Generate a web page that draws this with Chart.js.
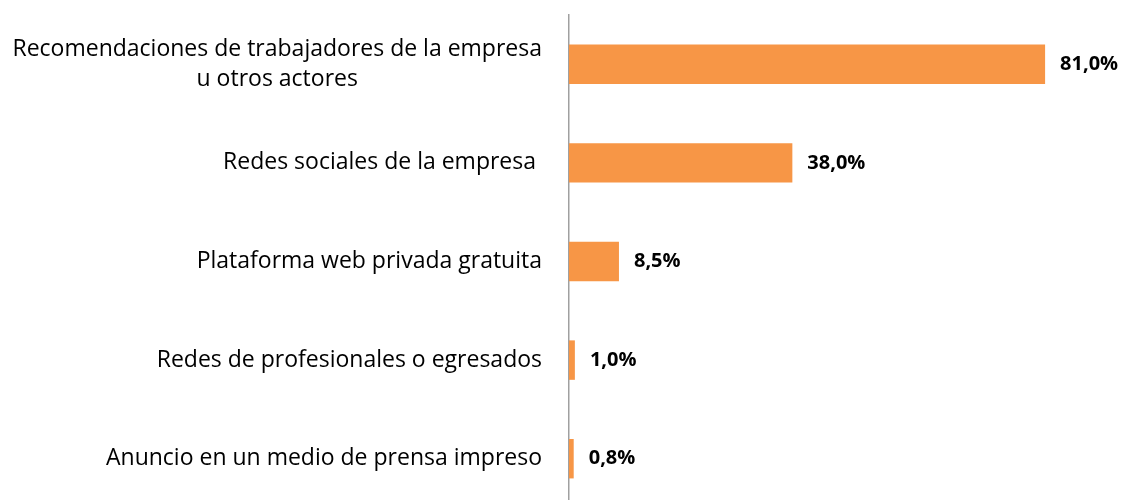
<!DOCTYPE html>
<html>
<head>
<meta charset="utf-8">
<script src="https://cdn.jsdelivr.net/npm/chart.js@4.4.0/dist/chart.umd.min.js"></script>
<style>
  html, body { margin: 0; padding: 0; background: #fff; overflow: hidden; }
  #wrap { position: absolute; left: 0; top: 0; width: 1122px; height: 508px; }
</style>
</head>
<body>
<div id="wrap"><canvas id="c"></canvas></div>
<script>
const categories = [
  ["Recomendaciones de trabajadores de la empresa", "u otros actores"],
  "Redes sociales de la empresa ",
  "Plataforma web privada gratuita",
  "Redes de profesionales o egresados",
  "Anuncio en un medio de prensa impreso"
];
const values = [81.0, 38.0, 8.5, 1.0, 0.8];
const axisMax = 90;

const FONT = "'Open Sans', Lato, sans-serif";
const CAT_SIZE = 23;
const VAL_SIZE = 20;

const labelPlugin = {
  id: 'customLabels',
  afterDatasetsDraw(chart) {
    const ctx = chart.ctx;
    const yScale = chart.scales.y;
    const meta = chart.getDatasetMeta(0);
    ctx.save();
    ctx.fillStyle = '#000';
    ctx.textBaseline = 'middle';
    ctx.font = CAT_SIZE + 'px ' + FONT;
    ctx.textAlign = 'center';
    const right = chart.chartArea.left - 27;
    const lh = 30;
    categories.forEach((lab, i) => {
      const lines = Array.isArray(lab) ? lab : [lab];
      const w = Math.max(...lines.map(l => ctx.measureText(l).width));
      const cx = right - w / 2;
      const cy = yScale.getPixelForValue(i);
      lines.forEach((l, j) => ctx.fillText(l, cx, cy + (j - (lines.length - 1) / 2) * lh));
    });
    ctx.font = 'bold ' + VAL_SIZE + 'px ' + FONT;
    ctx.textAlign = 'left';
    meta.data.forEach((bar, i) => {
      const txt = values[i].toFixed(1).replace('.', ',') + '%';
      ctx.fillText(txt, bar.x + 15, bar.y);
    });
    ctx.restore();
  }
};

new Chart(document.getElementById('c'), {
  type: 'bar',
  data: {
    labels: categories,
    datasets: [{
      data: values,
      backgroundColor: '#F79646',
      borderWidth: 0,
      barPercentage: 0.4,
      categoryPercentage: 1.0
    }]
  },
  options: {
    indexAxis: 'y',
    responsive: true,
    maintainAspectRatio: false,
    animation: false,
    layout: { padding: { left: 569, right: 24, top: 15, bottom: 0 } },
    plugins: { legend: { display: false }, tooltip: { enabled: false } },
    scales: {
      x: {
        min: 0, max: axisMax,
        display: false
      },
      y: {
        offset: true,
        grid: { display: false, drawTicks: false },
        border: { display: true, color: '#A0A0A0', width: 1.5 },
        ticks: { display: false }
      }
    }
  },
  plugins: [labelPlugin]
});
</script>
</body>
</html>
